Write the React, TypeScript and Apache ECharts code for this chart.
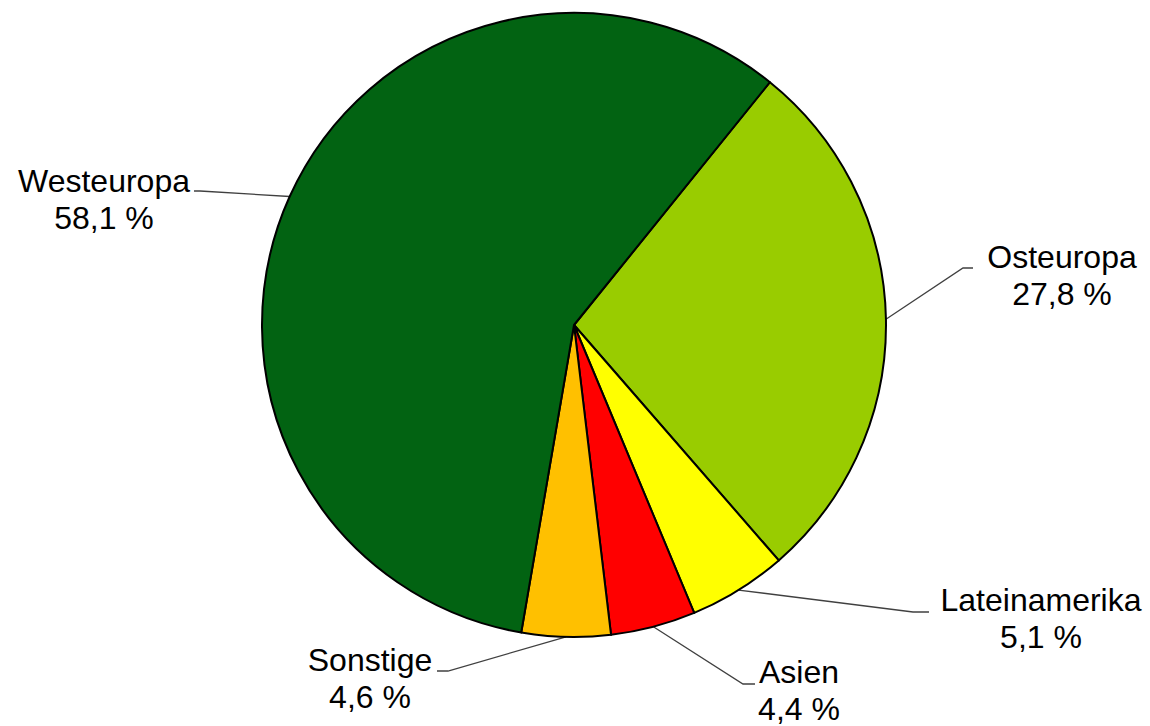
import React, { useEffect, useRef } from "react";
import * as echarts from "echarts";

const categories = ["Osteuropa", "Lateinamerika", "Asien", "Sonstige", "Westeuropa"];
const values = [27.8, 5.1, 4.4, 4.6, 58.1];
const colors = ["#99CC00", "#FFFF00", "#FF0000", "#FFC000", "#026312"];

// label anchor layout (text center x, text middle y, bend point, end point)
const labelPos: Record<string, { x: number; y: number; bend: number[]; end: number[] }> = {
  Osteuropa: { x: 1062, y: 275, bend: [963, 268], end: [973, 268] },
  Lateinamerika: { x: 1041, y: 618, bend: [913, 612], end: [929, 612] },
  Asien: { x: 799, y: 690, bend: [743, 684], end: [755, 684] },
  Sonstige: { x: 370, y: 678, bend: [448, 671], end: [437, 671] },
  Westeuropa: { x: 104, y: 199, bend: [200, 191], end: [194, 191] },
};

export default function App() {
  const ref = useRef<HTMLDivElement>(null);
  useEffect(() => {
    if (!ref.current) return;
    const chart = echarts.init(ref.current, undefined, { renderer: "svg" });
    chart.setOption({
      animation: false,
      backgroundColor: "#ffffff",
      series: [
        {
          type: "pie",
          center: [574, 325],
          radius: 312,
          startAngle: 51.1,
          clockwise: true,
          avoidLabelOverlap: false,
          data: categories.map((c, i) => ({
            name: c,
            value: values[i],
            itemStyle: { color: colors[i] },
          })),
          itemStyle: { borderColor: "#000000", borderWidth: 2 },
          label: {
            show: true,
            position: "outside",
            color: "#000000",
            fontFamily: "Liberation Sans, Arial, sans-serif",
            fontSize: 32,
            lineHeight: 37,
            align: "center",
            formatter: (p: any) =>
              p.name + "\n" + Number(p.value).toFixed(1).replace(".", ",") + " %",
          },
          labelLine: {
            show: true,
            lineStyle: { color: "#404040", width: 1.3 },
          },
          labelLayout: (params: any) => {
            const name = categories[params.dataIndex];
            const lp = labelPos[name];
            const start = params.labelLinePoints ? params.labelLinePoints[0] : lp.bend;
            return {
              x: lp.x,
              y: lp.y,
              align: "center",
              verticalAlign: "middle",
              labelLinePoints: [start, lp.bend, lp.end],
            };
          },
          emphasis: { disabled: true },
        },
      ],
    });
    return () => chart.dispose();
  }, []);
  return (
    <div
      ref={ref}
      style={{ position: "fixed", left: 0, top: 0, width: 1150, height: 726 }}
    />
  );
}
